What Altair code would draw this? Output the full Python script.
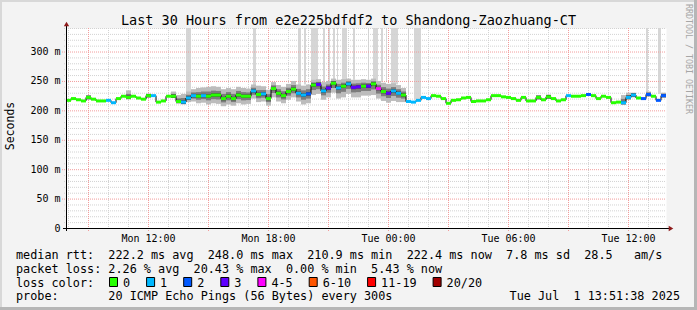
import altair as alt
import pandas as pd

# ---------------- data ----------------
T_START, T_END, STEP = 7.9, 37.9, 0.25   # hours since Mon 00:00
Y_MAX = 340

median_ms = [
    217, 220, 218, 216, 222, 219, 216, 216, 217, 213,
    220, 224, 222, 224, 221, 219, 225, 225, 214, 216,
    224, 224, 215, 214, 221, 225, 224, 225, 224, 226,
    226, 220, 224, 220, 226, 224, 224, 233, 227, 228,
    220, 237, 229, 225, 232, 236, 229, 226, 228, 243,
    244, 233, 238, 246, 238, 241, 245, 239, 240, 241,
    241, 245, 237, 232, 229, 233, 229, 226, 215, 214,
    217, 222, 220, 225, 224, 220, 212, 217, 218, 221,
    222, 215, 216, 216, 218, 225, 225, 223, 222, 220,
    217, 222, 216, 216, 222, 218, 223, 220, 216, 218,
    225, 224, 224, 225, 227, 225, 220, 224, 222, 213,
    214, 213, 222, 226, 221, 220, 227, 224, 217, 225]

loss_idx = [
    0, 0, 0, 0, 0, 0, 0, 0, 1, 1,
    0, 0, 0, 0, 0, 0, 0, 1, 0, 0,
    0, 0, 0, 1, 1, 1, 0, 1, 0, 0,
    0, 0, 0, 0, 0, 0, 0, 1, 0, 1,
    0, 0, 0, 0, 0, 0, 1, 1, 2, 0,
    3, 1, 3, 0, 1, 0, 1, 3, 3, 0,
    3, 0, 4, 0, 3, 1, 1, 0, 1, 1,
    1, 1, 1, 0, 0, 0, 0, 0, 0, 0,
    0, 0, 0, 0, 0, 0, 0, 0, 0, 0,
    0, 0, 0, 0, 0, 0, 0, 0, 0, 0,
    1, 0, 0, 0, 2, 0, 0, 0, 0, 0,
    0, 1, 1, 1, 0, 2, 2, 0, 2, 2]

LOSS_LABELS = ["0", "1", "2", "3", "4-5", "6-10", "11-19", "20/20"]
LOSS_COLORS = ["#26ff00", "#00b8ff", "#0059ff", "#5e00ff", "#ff00ff", "#ff5500", "#ff0000", "#a10000"]

SMOKE_FIRST = 23
smoke_lo = [210, 214, 215, 212, 213, 210, 212, 211, 207, 210,
            208, 212, 210, 211, 220, 214, 215, 208, 222, 215,
            212, 218, 222, 215, 210, 212, 226, 228, 218, 222,
            230, 220, 222, 228, 222, 222, 225, 225, 226, 220,
            216, 213, 216, 214, 214]
smoke_hi = [228, 232, 236, 238, 239, 240, 241, 240, 236, 238,
            236, 240, 238, 237, 244, 242, 241, 235, 248, 243,
            240, 245, 250, 244, 242, 244, 252, 253, 248, 250,
            254, 252, 253, 254, 252, 252, 253, 252, 254, 250,
            247, 245, 246, 243, 238]

extra_idx = [4, 12, 16, 21, 22, 94, 96, 111, 112, 113, 116, 119]
extra_lo = [218, 220, 222, 222, 213, 218, 220, 211, 218, 222, 224, 222]
extra_hi = [226, 234, 228, 232, 226, 226, 227, 226, 230, 230, 232, 230]

spike_start = [13.9, 17.25, 19.5, 19.8, 20.15, 20.75, 21.0, 21.25, 21.45, 21.7,
               22.25, 23.0, 23.25, 23.65, 23.9, 24.15, 25.0, 25.3, 36.9, 37.5]
spike_end = [14.15, 17.4, 19.65, 19.9, 20.5, 20.85, 21.1, 21.35, 21.5, 21.95,
             22.35, 23.05, 23.5, 23.75, 23.95, 24.5, 25.05, 25.65, 37.0, 37.65]
spike_bottom = [224, 240, 242, 244, 244, 248, 250, 250, 250, 250,
                252, 252, 250, 248, 248, 244, 226, 218, 228, 228]

x_tick_hours = [12, 18, 24, 30, 36]
x_tick_labels = ["Mon 12:00", "Mon 18:00", "Tue 00:00", "Tue 06:00", "Tue 12:00"]
y_tick_values = [0, 50, 100, 150, 200, 250, 300]

TITLE = "Last 30 Hours from e2e225bdfdf2 to Shandong-Zaozhuang-CT"
ROW1 = "median rtt:  222.2 ms avg  248.0 ms max  210.9 ms min  222.4 ms now  7.8 ms sd  28.5   am/s"
ROW2 = "packet loss: 2.26 % avg  20.43 % max  0.00 % min  5.43 % now"
ROW3 = "loss color:"
ROW4 = "probe:       20 ICMP Echo Pings (56 Bytes) every 300s"
DATE = "Tue Jul  1 13:51:38 2025"
SIDE = "RRDTOOL / TOBI OETIKER"

# ---------------- build tables ----------------
MONO = "DejaVu Sans Mono"
NB = "\u00a0"


def nb(s):
    return s.replace(" ", NB)


times = [T_START + STEP * i for i in range(len(median_ms))]
main = pd.DataFrame({
    "t": times,
    "t2": [t + STEP for t in times],
    "v": median_ms,
    "c": [LOSS_COLORS[k] for k in loss_idx],
})

srows = []
for k, (lo, hi) in enumerate(zip(smoke_lo, smoke_hi)):
    i = SMOKE_FIRST + k
    srows.append({"t": times[i], "t2": times[i] + STEP, "v": median_ms[i], "lo": lo, "hi": hi})
for i, lo, hi in zip(extra_idx, extra_lo, extra_hi):
    srows.append({"t": times[i], "t2": times[i] + STEP, "v": median_ms[i], "lo": lo, "hi": hi})
smoke = pd.DataFrame(srows)

spikes = pd.DataFrame({"t": spike_start, "t2": spike_end, "v": spike_bottom,
                       "v2": [Y_MAX] * len(spike_start)})

major_x = [h for h in range(8, 38) if h % 3 == 0]
minor_x = [h for h in range(8, 38) if h % 3 != 0]
major_y = [v for v in range(50, Y_MAX + 1, 50)]
minor_y = [v for v in range(10, Y_MAX + 1, 10) if v % 50 != 0]

DUMMY = pd.DataFrame({"d": [0]})

# ---------------- scales / axes ----------------
XS = alt.Scale(domain=[T_START, T_END], nice=False, zero=False)
YS = alt.Scale(domain=[0, Y_MAX], nice=False, zero=True)

x_expr = " : ".join(f"datum.value == {h} ? '{lab}'" for h, lab in zip(x_tick_hours, x_tick_labels)) + " : ''"
y_expr = f"datum.value == 0 ? '0{NB}{NB}' : datum.value + '{NB}m'"

XAXIS = alt.Axis(values=x_tick_hours, labelExpr=x_expr, title=None, domain=False, ticks=False,
                 tickSize=0, grid=False, labelFont=MONO, labelFontSize=10, labelColor="#000000",
                 labelPadding=13, labelBaseline="alphabetic", labelAngle=0, labelFlush=False,
                 labelOverlap=False)
YAXIS = alt.Axis(values=y_tick_values, labelExpr=y_expr, title=None, domain=False, ticks=False,
                 tickSize=0, grid=False, labelFont=MONO, labelFontSize=10, labelColor="#000000",
                 labelPadding=6, labelFlush=False, labelOverlap=False)


def X(f):
    return alt.X(f"{f}:Q", scale=XS, axis=XAXIS)


def Y(f):
    return alt.Y(f"{f}:Q", scale=YS, axis=YAXIS)


layers = []

# tall loss spikes
layers.append(alt.Chart(spikes).mark_rect(color="#d6d6d6").encode(
    x=X("t"), x2="t2", y=Y("v"), y2="v2"))

# grid
layers.append(alt.Chart(pd.DataFrame({"t": minor_x})).mark_rule(
    color="#d2d2d2", strokeDash=[1, 1], strokeWidth=1, xOffset=0.5).encode(
    x=X("t"), y=alt.value(0), y2=alt.value(200)))
layers.append(alt.Chart(pd.DataFrame({"v": minor_y})).mark_rule(
    color="#d2d2d2", strokeDash=[1, 1], strokeWidth=1, yOffset=0.5).encode(
    y=Y("v"), x=alt.value(-2), x2=alt.value(600)))
layers.append(alt.Chart(pd.DataFrame({"t": major_x})).mark_rule(
    color="#f29c9c", strokeDash=[1, 1], strokeWidth=1, xOffset=0.5).encode(
    x=X("t"), y=alt.value(0), y2=alt.value(203)))
layers.append(alt.Chart(pd.DataFrame({"v": major_y})).mark_rule(
    color="#f29c9c", strokeDash=[1, 1], strokeWidth=1, yOffset=0.5).encode(
    y=Y("v"), x=alt.value(-4), x2=alt.value(600)))

# smoke
sbase = alt.Chart(smoke).transform_calculate(
    mlo="(datum.lo + datum.v) / 2", mhi="(datum.hi + datum.v) / 2",
    dlo="datum.v - 3", dhi="datum.v + 3")
layers.append(sbase.mark_rect(color="#bcbcbc").encode(x=X("t"), x2="t2", y=Y("lo"), y2="hi"))
layers.append(sbase.mark_rect(color="#7c7c7c").encode(x=X("t"), x2="t2", y=Y("mlo"), y2="mhi"))
layers.append(sbase.mark_rect(color="#3e3e3e").encode(x=X("t"), x2="t2", y=Y("dlo"), y2="dhi"))

# median line: thin black connector + loss-coloured steps
layers.append(alt.Chart(main).mark_line(interpolate="step-after", color="#000000", strokeWidth=1).encode(
    x=X("t"), y=Y("v")))
layers.append(alt.Chart(main).mark_rule(strokeWidth=3, strokeCap="butt").encode(
    x=X("t"), x2="t2", y=Y("v"), color=alt.Color("c:N", scale=None)))

# axis lines and arrows
layers.append(alt.Chart(DUMMY).mark_rule(color="#000000", strokeWidth=1, yOffset=0.5).encode(
    x=alt.value(-3), x2=alt.value(603), y=alt.value(200)))
layers.append(alt.Chart(DUMMY).mark_rule(color="#000000", strokeWidth=1, xOffset=0.5).encode(
    x=alt.value(0), y=alt.value(-3), y2=alt.value(203)))
layers.append(alt.Chart(DUMMY).mark_point(shape="triangle-up", filled=True, size=28, color="#8e1b1b",
                                          opacity=1).encode(x=alt.value(0.5), y=alt.value(-4)))
layers.append(alt.Chart(DUMMY).mark_point(shape="triangle-right", filled=True, size=28, color="#8e1b1b",
                                          opacity=1).encode(x=alt.value(605), y=alt.value(200.5)))

# frame
for (x1, x2, y1, y2, col) in [(-66, -64, -28, 282, "#d8d8d8"), (-66, 631, -28, -26, "#d8d8d8"),
                              (628, 631, -28, 282, "#b6b6b6"), (-66, 631, 279, 282, "#b6b6b6")]:
    layers.append(alt.Chart(DUMMY).mark_rect(color=col).encode(
        x=alt.value(x1), x2=alt.value(x2), y=alt.value(y1), y2=alt.value(y2)))


def txt(s, x, y, size=11.8, align="left", baseline="alphabetic", angle=0, color="#000000"):
    kw = dict(text=nb(s), font=MONO, fontSize=size, align=align, baseline=baseline, color=color)
    if angle:
        kw["angle"] = angle
    return alt.Chart(DUMMY).mark_text(**kw).encode(x=alt.value(x), y=alt.value(y))


layers.append(txt(TITLE, 282.5, -3.5, size=13.5, align="center"))
layers.append(txt("Seconds", -55, 98, size=11.5, align="center", baseline="middle", angle=270))
layers.append(txt(SIDE, 621.5, 31, size=8.3, align="center", baseline="middle", angle=90, color="#a6a6a6"))
layers.append(txt(ROW1, -50, 231))
layers.append(txt(ROW2, -50, 244.8))
layers.append(txt(ROW3, -50, 258.5))
layers.append(txt(ROW4, -50, 272.3))
layers.append(txt(DATE, 614, 272.3, align="right"))

bx = 43.0
for lab, col in zip(LOSS_LABELS, LOSS_COLORS):
    layers.append(alt.Chart(DUMMY).mark_rect(color=col, stroke="#000000", strokeWidth=1).encode(
        x=alt.value(bx + 0.5), x2=alt.value(bx + 8.5), y=alt.value(249.5), y2=alt.value(258.5)))
    layers.append(txt(lab, bx + 14, 258.5))
    bx = bx + 14 + len(lab) * 7.1 + 16

chart = alt.layer(*layers).properties(
    width=600, height=200, background="#f3f3f3",
    padding={"left": 66, "top": 28, "right": 31, "bottom": 82},
    autosize=alt.AutoSizeParams(type="none"),
).configure_view(fill="#ffffff", stroke="transparent")

chart.save("out.html", embed_options={"renderer": "svg", "actions": False})
